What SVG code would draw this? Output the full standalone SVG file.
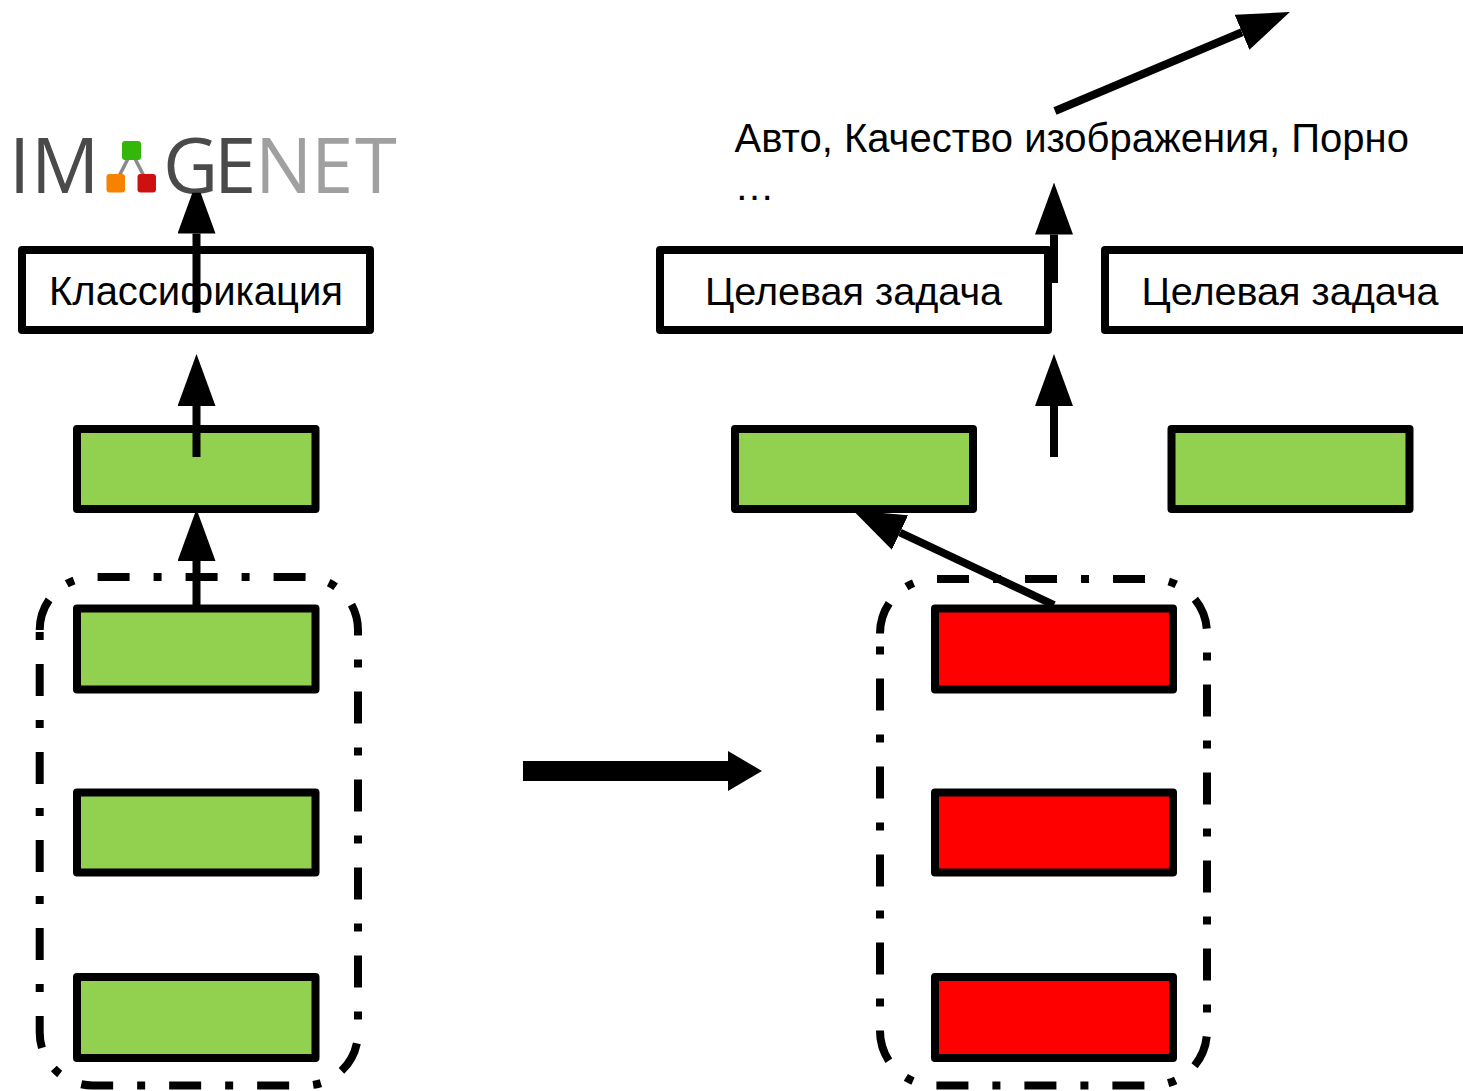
<svg xmlns="http://www.w3.org/2000/svg" width="1463" height="1091" viewBox="0 0 1463 1091">
<style>
.box{stroke:#000;stroke-width:8;stroke-linejoin:round}
.white{fill:#fff}
.green{fill:#92d050}
.red{fill:#ff0000}
.group{fill:none;stroke:#000;stroke-width:8;stroke-dasharray:32 24 8 24}
.label{font-family:"Liberation Sans",Arial,sans-serif;font-size:40px;fill:#000}
.target{font-size:39.6px}
.mid{text-anchor:middle}
.logo{font-family:"Open Sans",sans-serif;font-size:76px;font-weight:500}
.dark{fill:#4a4a4a}
.light{fill:#a0a0a0}
.conn{fill:none;stroke:#000;stroke-width:8;marker-end:url(#head)}
</style>
<defs>
<marker id="head" markerUnits="userSpaceOnUse" markerWidth="52" markerHeight="38" viewBox="0 0 52 38" refX="0" refY="19" orient="auto"><path d="M0,0L52,19L0,38z" fill="#000"/></marker>
<clipPath id="below-logo" clipPathUnits="userSpaceOnUse"><rect x="0" y="192.700" width="1463" height="900"/></clipPath>
<clipPath id="below-green" clipPathUnits="userSpaceOnUse"><rect x="0" y="513" width="1463" height="600"/></clipPath>
</defs>
<g id="imagenet-logo">
<text class="logo dark" x="9 31" y="192.500">IM</text>
<text class="logo dark" x="163 214 255 311 355" y="192.500">GE<tspan class="light">NET</tspan></text>
<path d="M131.500 152L116 182M131.500 152L147 182" stroke="#8a8a8a" stroke-width="3.500" fill="none"/>
<rect x="122" y="141" width="19" height="19" rx="3" fill="#35b60b"/>
<rect x="106.500" y="174" width="18.500" height="18.500" rx="3" fill="#f78200"/>
<rect x="137.500" y="174" width="18.500" height="18.500" rx="3" fill="#cf1010"/>
</g>
<g id="left-group"><path class="group" d="M39.700,630A53,53 0 0 1 92.700,577H305A53,53 0 0 1 358,630V1032.500A53,53 0 0 1 305,1085.500H92.700A53,53 0 0 1 39.700,1032.500z"/></g>
<g id="right-group"><path class="group" d="M880,633.500A54.500,54.500 0 0 1 934.500,579H1152.500A54.500,54.500 0 0 1 1207,633.500V1031A54.500,54.500 0 0 1 1152.500,1085.500H934.500A54.500,54.500 0 0 1 880,1031z"/></g>
<g id="classification"><rect class="box white" x="22" y="250" width="348" height="80"/><text class="label mid" x="196" y="305">Классификация</text></g>
<g id="target-1"><rect class="box white" x="660" y="250" width="388" height="80"/><text class="label target mid" x="853.500" y="305">Целевая задача</text></g>
<g id="target-2"><rect class="box white" x="1105" y="250" width="388" height="80"/><text class="label target mid" x="1290" y="305">Целевая задача</text></g>
<g id="left-top"><rect class="box green" x="77" y="429" width="238.500" height="80"/></g>
<g id="right-top-1"><rect class="box green" x="735" y="429" width="238" height="80"/></g>
<g id="right-top-2"><rect class="box green" x="1171.500" y="429" width="238" height="80"/></g>
<g id="left-1"><rect class="box green" x="77" y="608.500" width="238.500" height="81"/></g>
<g id="left-2"><rect class="box green" x="77" y="792.500" width="238.500" height="80"/></g>
<g id="left-3"><rect class="box green" x="77" y="977" width="238.500" height="81"/></g>
<g id="red-1"><rect class="box red" x="935" y="608.500" width="238" height="81"/></g>
<g id="red-2"><rect class="box red" x="935" y="792.500" width="238" height="80"/></g>
<g id="red-3"><rect class="box red" x="935" y="977" width="238" height="81"/></g>
<g id="output-label"><text class="label" x="734.500" y="152">Авто, Качество изображения, Порно</text><text class="label" x="734.500" y="200">…</text></g>
<g id="connectors">
<g clip-path="url(#below-logo)"><line class="conn" x1="196.500" y1="312.500" x2="196.500" y2="233.500"/></g>
<line class="conn" x1="196.500" y1="457" x2="196.500" y2="406"/>
<g clip-path="url(#below-green)"><line class="conn" x1="196.500" y1="605" x2="196.500" y2="561"/></g>
<line class="conn" x1="1054" y1="283" x2="1054" y2="234.500"/>
<line class="conn" x1="1054" y1="457" x2="1054" y2="406"/>
<g clip-path="url(#below-green)"><line class="conn" x1="1054" y1="605" x2="900" y2="532.500"/></g>
<line class="conn" x1="1055" y1="111" x2="1242" y2="32.200"/>
<path d="M523,761H728V751L762,771L728,791V781H523z" fill="#000"/>
</g>
</svg>
